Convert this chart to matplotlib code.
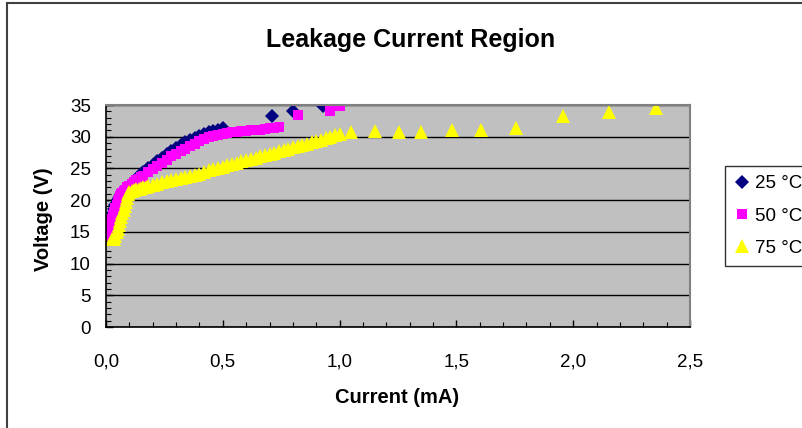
import matplotlib
matplotlib.use("Agg")
import matplotlib.pyplot as plt
from matplotlib.lines import Line2D
from matplotlib.ticker import MultipleLocator

plt.rcParams['font.family'] = ['Liberation Sans', 'DejaVu Sans']

# 25 C - current (mA) / voltage (V)
i25 = [0.000, 0.005, 0.010, 0.015, 0.020, 0.025, 0.030, 0.035, 0.040,
       0.045, 0.050, 0.055, 0.060, 0.065, 0.070, 0.075, 0.080, 0.09, 0.10,
       0.11, 0.12, 0.13, 0.14, 0.15, 0.16, 0.18, 0.20, 0.22, 0.24, 0.26,
       0.28, 0.30, 0.32, 0.34, 0.36, 0.38, 0.40, 0.42, 0.44, 0.46, 0.48,
       0.50,
       0.71, 0.80, 0.93]
v25 = [14.0, 14.8, 15.5, 16.2, 16.8, 17.4, 18.0, 18.6, 19.2,
       19.6, 20.0, 20.3, 20.6, 20.9, 21.1, 21.3, 21.5, 21.9, 22.3,
       22.7, 23.0, 23.4, 23.7, 24.1, 24.4, 25.0, 25.6, 26.2, 26.7, 27.2,
       27.7, 28.2, 28.7, 29.1, 29.5, 29.8, 30.1, 30.4, 30.7, 30.9, 31.1,
       31.3,
       33.3, 34.0, 34.8]

# 50 C
i50 = [0.005, 0.010, 0.015, 0.020, 0.025, 0.030, 0.035, 0.040, 0.045,
       0.050, 0.055, 0.060, 0.065, 0.070, 0.075, 0.080, 0.09, 0.10,
       0.11, 0.12, 0.13, 0.14, 0.15, 0.16, 0.18, 0.20, 0.22, 0.24, 0.26,
       0.28, 0.30, 0.32, 0.34, 0.36, 0.38, 0.40, 0.42, 0.44, 0.46, 0.48,
       0.50, 0.52, 0.54, 0.56, 0.58, 0.60, 0.62, 0.64, 0.66, 0.68, 0.70,
       0.72, 0.74,
       0.82, 0.96, 1.00]
v50 = [14.3, 15.0, 15.7, 16.4, 17.0, 17.6, 18.2, 18.8, 19.3,
       19.8, 20.2, 20.6, 20.9, 21.2, 21.4, 21.6, 22.0, 22.3,
       22.6, 22.8, 23.1, 23.3, 23.6, 23.8, 24.4, 24.9, 25.4, 25.9, 26.4,
       26.9, 27.3, 27.7, 28.1, 28.5, 28.9, 29.3, 29.6, 29.9, 30.1, 30.3,
       30.5, 30.6, 30.7, 30.8, 30.9, 30.95, 31.0, 31.05, 31.1, 31.2, 31.3,
       31.4, 31.5,
       33.4, 34.1, 34.9]

# 75 C
i75 = [0.025, 0.035, 0.040, 0.045, 0.050, 0.055, 0.060, 0.065, 0.070,
       0.075, 0.080, 0.085, 0.090, 0.095, 0.100, 0.11,
       0.12, 0.13, 0.14, 0.15, 0.16, 0.17, 0.18, 0.20, 0.22, 0.24, 0.26,
       0.28, 0.30, 0.32, 0.34, 0.36, 0.38, 0.40, 0.42, 0.44, 0.46, 0.48,
       0.50, 0.52, 0.54, 0.56, 0.58, 0.60, 0.62, 0.64, 0.66, 0.68, 0.70,
       0.72, 0.74, 0.76, 0.78, 0.80, 0.82, 0.84, 0.86, 0.88, 0.90, 0.92,
       0.94, 0.96, 0.98, 1.00,
       1.05, 1.15, 1.256, 1.35, 1.48, 1.607, 1.757, 1.957, 2.154, 2.354]
v75 = [13.9, 13.9, 14.3, 14.9, 15.5, 16.1, 16.7, 17.3, 17.9,
       18.5, 19.1, 19.7, 20.3, 20.9, 21.3, 21.5,
       21.6, 21.7, 21.8, 21.9, 22.0, 22.1, 22.2, 22.4, 22.6, 22.8, 23.0,
       23.1, 23.3, 23.5, 23.7, 23.8, 24.0, 24.2, 24.4, 24.7, 24.9, 25.1,
       25.3, 25.5, 25.7, 25.9, 26.1, 26.3, 26.5, 26.7, 26.9, 27.1, 27.3,
       27.5, 27.7, 27.9, 28.1, 28.3, 28.5, 28.7, 28.9, 29.1, 29.3, 29.5,
       29.8, 30.0, 30.2, 30.4,
       30.7, 30.9, 30.8, 30.8, 31.05, 31.05, 31.3, 33.2, 33.9, 34.6]

x_ticks = [0.0, 0.5, 1.0, 1.5, 2.0, 2.5]
x_labels = ["0,0", "0,5", "1,0", "1,5", "2,0", "2,5"]
y_ticks = [0, 5, 10, 15, 20, 25, 30, 35]

fig = plt.figure(figsize=(8.02, 4.28), dpi=100)
ax = fig.add_axes([106/802, 1-327/428, 584/802, 222/428])
ax.set_facecolor('#C0C0C0')

ax.plot(i25, v25, 'D', color='#000080', ms=7.5, mew=0, label='25 °C')
ax.plot(i50, v50, 's', color='#FF00FF', ms=7.5, mew=0, label='50 °C')
ax.plot(i75, v75, '^', color='#FFFF00', ms=10.5, mew=0, label='75 °C')

ax.set_xlim(0, 2.5)
ax.set_ylim(0, 35)
ax.set_xticks(x_ticks)
ax.set_xticklabels(x_labels)
ax.set_yticks(y_ticks)
ax.xaxis.set_minor_locator(MultipleLocator(0.1))
ax.yaxis.set_minor_locator(MultipleLocator(1))
ax.tick_params(axis='both', which='major', direction='in', length=5, width=1,
               labelsize=13.5, color='black')
ax.tick_params(axis='both', which='minor', direction='in', length=3.5, width=0.8)
ax.tick_params(axis='x', pad=19)
ax.tick_params(axis='y', pad=11)
ax.grid(axis='y', which='major', color='black', lw=1)
ax.set_axisbelow(True)

ax.spines['left'].set_color('black')
ax.spines['bottom'].set_color('black')
ax.spines['left'].set_linewidth(1.2)
ax.spines['bottom'].set_linewidth(1.2)
ax.spines['top'].set_color('#808080')
ax.spines['right'].set_color('#808080')
ax.spines['top'].set_linewidth(1.5)
ax.spines['right'].set_linewidth(1.5)

ax.set_xlabel('Current (mA)', fontsize=14.5, fontweight='bold')
ax.set_ylabel('Voltage (V)', fontsize=14.5, fontweight='bold')
ax.xaxis.set_label_coords(0.498, -0.275)
ax.yaxis.set_label_coords(-0.091, 0.486)
fig.text(411/802, 1-40/428, 'Leakage Current Region', ha='center', va='center',
         fontsize=18, fontweight='bold')

leg = fig.legend(loc='upper left', bbox_to_anchor=(725/802, 1-166/428),
                 frameon=True, fancybox=False, fontsize=13.5, handlelength=0.8,
                 handletextpad=0.3, labelspacing=0.8, borderpad=0.5,
                 borderaxespad=0)
leg.get_frame().set_edgecolor('black')
leg.get_frame().set_linewidth(1)

# outer chart border
fig.add_artist(Line2D([7/802, 7/802], [0, 1-3/428], color='#404040', lw=1.5))
fig.add_artist(Line2D([7/802, 1], [1-3/428, 1-3/428], color='#404040', lw=1.5))

fig.savefig('out.png', dpi=100)
